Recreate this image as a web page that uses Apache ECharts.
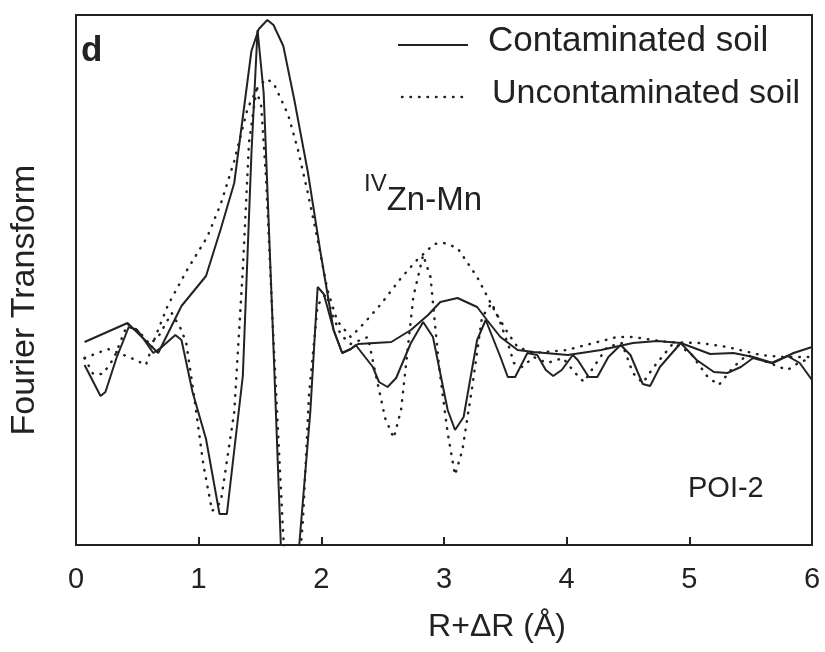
<!DOCTYPE html>
<html>
<head>
<meta charset="utf-8">
<script src="https://cdn.jsdelivr.net/npm/echarts@6/dist/echarts.min.js"></script>
<style>
    html, body { margin: 0; padding: 0; background: #fff; }
    #chart { width: 825px; height: 652px; }
</style>
</head>
<body>
<div id="chart"></div>
<script>
// values; y is in arbitrary FT units
const xTicks = [0, 1, 2, 3, 4, 5, 6];

const contaminatedMag = [
    [0.07, 203], [0.42, 222], [0.67, 192], [0.86, 239], [1.06, 269], [1.18, 316], [1.29, 362],
    [1.43, 494], [1.49, 516], [1.56, 525], [1.61, 520], [1.69, 499], [1.78, 445], [1.89, 373],
    [1.99, 295], [2.10, 215], [2.17, 192], [2.24, 196], [2.30, 201], [2.57, 203], [2.73, 215],
    [2.87, 230], [2.97, 243], [3.11, 247], [3.27, 238], [3.35, 225], [3.46, 208], [3.60, 195],
    [3.73, 193], [4.01, 190], [4.28, 195], [4.54, 202], [4.74, 204], [4.93, 202], [5.17, 191],
    [5.36, 192], [5.52, 188], [5.68, 182], [5.85, 192], [6.0, 198]
];

const contaminatedIm = [
    [0.07, 180], [0.2, 149], [0.24, 153], [0.33, 187], [0.43, 218], [0.5, 215], [0.63, 192],
    [0.69, 197], [0.81, 210], [0.86, 205], [0.95, 153], [1.06, 106], [1.17, 31], [1.23, 31],
    [1.36, 169], [1.43, 391], [1.48, 515], [1.53, 452], [1.6, 230], [1.67, 0], [1.74, -120],
    [1.82, 0], [1.91, 133], [1.97, 258], [2.02, 251], [2.10, 215], [2.17, 192], [2.24, 196],
    [2.28, 200], [2.42, 178], [2.47, 163], [2.54, 158], [2.61, 167], [2.73, 202], [2.83, 223],
    [2.91, 208], [3.03, 135], [3.09, 115], [3.16, 128], [3.27, 205], [3.34, 225], [3.46, 188],
    [3.52, 168], [3.58, 168], [3.68, 192], [3.76, 190], [3.83, 175], [3.89, 169], [3.96, 175],
    [4.05, 190], [4.09, 185], [4.18, 168], [4.25, 168], [4.34, 188], [4.44, 200], [4.52, 190],
    [4.62, 161], [4.68, 159], [4.76, 178], [4.93, 202], [5.06, 185], [5.2, 173], [5.31, 172],
    [5.42, 178], [5.52, 187], [5.67, 182], [5.8, 189], [5.9, 182], [6.0, 165]
];

const uncontaminatedMag = [
    [0.07, 187], [0.26, 196], [0.35, 192], [0.45, 187], [0.57, 180], [0.64, 206], [0.75, 240],
    [0.91, 276], [1.07, 308], [1.18, 341], [1.29, 384], [1.4, 437], [1.48, 457], [1.55, 466],
    [1.61, 462], [1.73, 430], [1.81, 395], [1.89, 352], [1.97, 305], [2.05, 255], [2.13, 224],
    [2.24, 208], [2.35, 222], [2.48, 240], [2.65, 267], [2.78, 285], [2.92, 301], [3.0, 302],
    [3.11, 297], [3.27, 268], [3.41, 235], [3.52, 212], [3.6, 198], [3.73, 192], [4.0, 195],
    [4.22, 202], [4.41, 208], [4.54, 208], [4.82, 203], [5.09, 202], [5.31, 198], [5.58, 190],
    [5.77, 188], [6.0, 188]
];

const uncontaminatedIm = [
    [0.07, 187], [0.14, 171], [0.22, 171], [0.31, 187], [0.42, 221], [0.51, 214], [0.6, 201],
    [0.67, 208], [0.78, 232], [0.86, 215], [0.9, 201], [0.96, 151], [1.04, 79], [1.11, 34],
    [1.18, 43], [1.29, 133], [1.36, 276], [1.41, 402], [1.47, 455], [1.51, 439], [1.55, 366],
    [1.61, 205], [1.69, 8], [1.77, -100], [1.85, 25], [1.9, 151], [1.97, 240], [2.04, 251],
    [2.09, 230], [2.16, 210], [2.24, 201], [2.38, 208], [2.43, 178], [2.52, 127], [2.59, 107],
    [2.65, 135], [2.75, 248], [2.83, 290], [2.89, 268], [2.96, 178], [3.03, 112], [3.09, 70],
    [3.15, 95], [3.23, 158], [3.31, 228], [3.39, 242], [3.46, 222], [3.53, 198], [3.57, 182],
    [3.64, 178], [3.73, 188], [3.84, 182], [3.97, 187], [4.07, 172], [4.14, 163], [4.22, 178],
    [4.33, 198], [4.45, 202], [4.54, 172], [4.62, 162], [4.71, 178], [4.87, 202], [5.01, 192],
    [5.15, 168], [5.24, 160], [5.36, 178], [5.47, 190], [5.63, 183], [5.8, 175], [5.9, 183],
    [6.0, 187]
];

const font = 'Liberation Sans, Arial, sans-serif';
const chart = echarts.init(document.getElementById('chart'));

const solid = { color: '#222', width: 2 };
const dotted = { color: '#222', width: 2.5, type: [0.5, 8], cap: 'round' };

function lineSeries(data, style) {
    return {
        type: 'line',
        data: data,
        showSymbol: false,
        clip: true,
        lineStyle: style,
        silent: true
    };
}

chart.setOption({
    animation: false,
    grid: { left: 75, top: 15, right: 13, bottom: 107, show: true, borderColor: '#222', borderWidth: 2 },
    xAxis: {
        type: 'value',
        min: 0,
        max: 6,
        interval: 1,
        axisLine: { lineStyle: { color: '#222', width: 2 } },
        axisTick: { inside: true, length: 8, lineStyle: { color: '#222', width: 2 } },
        axisLabel: { color: '#222', fontSize: 29, fontFamily: font, margin: 20,
            formatter: (v) => xTicks.includes(v) ? String(v) : '' },
        splitLine: { show: false },
        name: 'R+ΔR (Å)',
        nameLocation: 'middle',
        nameGap: 66,
        nameTextStyle: { color: '#222', fontSize: 32, fontFamily: font, padding: [0, 0, 0, 106] }
    },
    yAxis: {
        type: 'value',
        min: 0,
        max: 530,
        axisLine: { show: true, lineStyle: { color: '#222', width: 2 } },
        axisTick: { show: false },
        axisLabel: { show: false },
        splitLine: { show: false },
        name: 'Fourier Transform',
        nameLocation: 'middle',
        nameGap: 34,
        nameTextStyle: { color: '#222', fontSize: 34, fontFamily: font, padding: [0, 40, 0, 0] }
    },
    series: [
        lineSeries(contaminatedMag, solid),
        lineSeries(contaminatedIm, solid),
        lineSeries(uncontaminatedMag, dotted),
        lineSeries(uncontaminatedIm, dotted)
    ],
    graphic: [
        { type: 'text', left: 81, top: 34, style: { text: 'd', font: 'bold 35px ' + font, fill: '#222' } },
        { type: 'line', shape: { x1: 398, y1: 45, x2: 468, y2: 45 }, style: { stroke: '#222', lineWidth: 2 } },
        { type: 'text', left: 488, top: 24, style: { text: 'Contaminated soil', font: '35px ' + font, fill: '#222' } },
        { type: 'line', shape: { x1: 402, y1: 97, x2: 466, y2: 97 },
          style: { stroke: '#222', lineWidth: 2.5, lineDash: [0.5, 8], lineCap: 'round' } },
        { type: 'text', left: 492, top: 77, style: { text: 'Uncontaminated soil', font: '34px ' + font, fill: '#222' } },
        { type: 'text', left: 364, top: 172, style: {
            text: '{s|IV}{n|Zn-Mn}',
            rich: {
                s: { font: '24px ' + font, fill: '#222', verticalAlign: 'top', padding: [0, 0, 16, 0] },
                n: { font: '33px ' + font, fill: '#222', padding: [12, 0, 0, 0] }
            }
        } },
        { type: 'text', left: 688, top: 474, style: { text: 'POI-2', font: '29px ' + font, fill: '#222' } }
    ]
});
</script>
</body>
</html>
